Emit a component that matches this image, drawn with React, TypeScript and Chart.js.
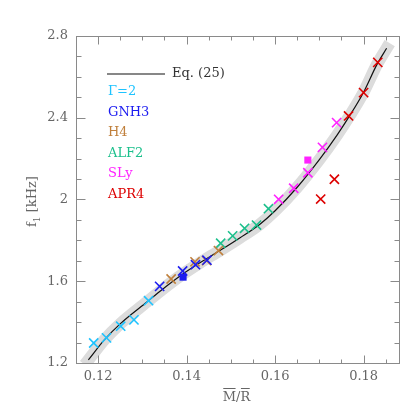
import React, { useEffect, useRef } from "react";
import { Chart, registerables } from "chart.js";

Chart.register(...registerables);

// Eq. (25) fit curve
const curveX = [0.1178, 0.1214, 0.1251, 0.1311, 0.1345, 0.1390, 0.1430, 0.1475, 0.1520, 0.1565, 0.1600, 0.1650, 0.1700, 0.1740, 0.1770, 0.1800, 0.1830, 0.1852];
const curveY = [1.215, 1.313, 1.394, 1.500, 1.560, 1.633, 1.690, 1.750, 1.812, 1.878, 1.945, 2.060, 2.195, 2.315, 2.415, 2.525, 2.660, 2.740];

const gamma2X = [0.1190, 0.1219, 0.1251, 0.1281, 0.1314];
const gamma2Y = [1.298, 1.323, 1.380, 1.411, 1.505];
const gnh3X = [0.1339, 0.1391, 0.1420, 0.1446];
const gnh3Y = [1.575, 1.650, 1.681, 1.703];
const gnh3SquareX = [0.1392];
const gnh3SquareY = [1.620];
const h4X = [0.1365, 0.1419, 0.1445, 0.1472];
const h4Y = [1.611, 1.695, 1.701, 1.750];
const alf2X = [0.1477, 0.1504, 0.1531, 0.1558, 0.1585];
const alf2Y = [1.786, 1.822, 1.859, 1.875, 1.955];
const slyX = [0.1608, 0.1642, 0.1674, 0.1707, 0.1739];
const slyY = [2.001, 2.055, 2.131, 2.255, 2.376];
const slySquareX = [0.1674];
const slySquareY = [2.193];
const apr4X = [0.1703, 0.1734, 0.1766, 0.1800, 0.1832];
const apr4Y = [2.002, 2.099, 2.409, 2.523, 2.671];

const seriesNames = ["Γ=2", "GNH3", "H4", "ALF2", "SLy", "APR4"];
const seriesColors = ["#1ec3ff", "#1c1cf0", "#c0803c", "#1cc08c", "#ff22ff", "#dd0000"];

const xTickValues = [0.12, 0.14, 0.16, 0.18];
const xTickLabels = ["0.12", "0.14", "0.16", "0.18"];
const yTickValues = [1.2, 1.6, 2.0, 2.4, 2.8];
const yTickLabels = ["1.2", "1.6", "2", "2.4", "2.8"];

const zip = (xs: number[], ys: number[]) => xs.map((x, i) => ({ x, y: ys[i] }));

const FONT = "'DejaVu Serif', 'Liberation Serif', serif";

const framePlugin = {
  id: "framePlugin",
  afterDraw(chart: any) {
    const ctx = chart.ctx;
    const xs = chart.scales.x;
    const ys = chart.scales.y;
    const { left, right, top, bottom } = chart.chartArea;
    const L = Math.round(left) + 0.5;
    const R = Math.round(right) + 0.5;
    const T = Math.round(top) + 0.5;
    const B = Math.round(bottom) + 0.5;
    ctx.save();
    ctx.strokeStyle = "#8a8a8a";
    ctx.lineWidth = 1;
    ctx.strokeRect(L, T, R - L, B - T);
    ctx.beginPath();
    for (let i = 23; i <= 37; i++) {
      const v = i * 0.005;
      const px = Math.round(xs.getPixelForValue(v)) + 0.5;
      if (px <= L || px >= R) continue;
      const len = i % 4 === 0 ? 8 : 4;
      ctx.moveTo(px, B);
      ctx.lineTo(px, B - len);
      ctx.moveTo(px, T);
      ctx.lineTo(px, T + len);
    }
    for (let i = 12; i <= 28; i++) {
      const v = i * 0.1;
      const py = Math.round(ys.getPixelForValue(v)) + 0.5;
      if (py <= T || py >= B) continue;
      const len = i % 4 === 0 ? 9 : 5;
      ctx.moveTo(L, py);
      ctx.lineTo(L + len, py);
      ctx.moveTo(R, py);
      ctx.lineTo(R - len, py);
    }
    ctx.stroke();

    // tick labels
    ctx.fillStyle = "#666";
    ctx.font = `13px ${FONT}`;
    ctx.textAlign = "center";
    ctx.textBaseline = "middle";
    xTickValues.forEach((v, i) => {
      ctx.fillText(xTickLabels[i], xs.getPixelForValue(v), bottom + 14);
    });
    ctx.textAlign = "right";
    yTickValues.forEach((v, i) => {
      ctx.fillText(yTickLabels[i], left - 8, ys.getPixelForValue(v));
    });

    // x axis title: M/R with overbars
    ctx.textAlign = "left";
    ctx.textBaseline = "alphabetic";
    const title = "M/R";
    const tw = ctx.measureText(title).width;
    const tx = (left + right) / 2 - tw / 2 - 1;
    const tb = bottom + 38;
    ctx.fillText(title, tx, tb);
    const wM = ctx.measureText("M").width;
    const wMs = ctx.measureText("M/").width;
    ctx.strokeStyle = "#666";
    ctx.beginPath();
    ctx.moveTo(tx + 0.5, tb - 12.5);
    ctx.lineTo(tx + wM - 0.5, tb - 12.5);
    ctx.moveTo(tx + wMs + 0.5, tb - 12.5);
    ctx.lineTo(tx + tw - 0.5, tb - 12.5);
    ctx.stroke();

    // y axis title: f_1 [kHz]
    ctx.save();
    ctx.translate(36, (top + bottom) / 2 + 2);
    ctx.rotate(-Math.PI / 2);
    ctx.font = `13px ${FONT}`;
    const wf = ctx.measureText("f").width;
    ctx.font = `9px ${FONT}`;
    const w1 = ctx.measureText("1").width;
    ctx.font = `13px ${FONT}`;
    const wk = ctx.measureText(" [kHz]").width;
    const total = wf + w1 + wk;
    let cx = -total / 2;
    ctx.fillText("f", cx, 0);
    cx += wf;
    ctx.font = `9px ${FONT}`;
    ctx.fillText("1", cx, 4);
    cx += w1;
    ctx.font = `13px ${FONT}`;
    ctx.fillText(" [kHz]", cx, 0);
    ctx.restore();

    // legend
    ctx.strokeStyle = "#111";
    ctx.lineWidth = 1.2;
    ctx.beginPath();
    ctx.moveTo(107, 74);
    ctx.lineTo(165, 74);
    ctx.stroke();
    ctx.font = `13px ${FONT}`;
    ctx.textBaseline = "middle";
    ctx.textAlign = "left";
    ctx.fillStyle = "#333";
    ctx.fillText("Eq. (25)", 172, 74);
    seriesNames.forEach((name, i) => {
      ctx.fillStyle = seriesColors[i];
      ctx.fillText(name, 108, 92 + i * 20.5);
    });
    ctx.restore();
  },
};

function crossSet(label: string, xs: number[], ys: number[], color: string) {
  return {
    type: "scatter" as const,
    label,
    data: zip(xs, ys),
    pointStyle: "crossRot",
    pointRadius: 6.5,
    pointBorderWidth: 1.6,
    borderColor: color,
    backgroundColor: color,
    showLine: false,
    order: 1,
  };
}

function squareSet(label: string, xs: number[], ys: number[], color: string) {
  return {
    type: "scatter" as const,
    label,
    data: zip(xs, ys),
    pointStyle: "rect",
    pointRadius: 5,
    pointBorderWidth: 0,
    borderColor: color,
    backgroundColor: color,
    showLine: false,
    order: 1,
  };
}

export default function App() {
  const ref = useRef<HTMLCanvasElement | null>(null);
  useEffect(() => {
    document.body.style.margin = "0";
    if (!ref.current) return;
    const chart = new Chart(ref.current, {
      type: "scatter",
      data: {
        datasets: [
          crossSet(seriesNames[0], gamma2X, gamma2Y, seriesColors[0]),
          crossSet(seriesNames[1], gnh3X, gnh3Y, seriesColors[1]),
          squareSet("GNH3 sq", gnh3SquareX, gnh3SquareY, seriesColors[1]),
          crossSet(seriesNames[2], h4X, h4Y, seriesColors[2]),
          crossSet(seriesNames[3], alf2X, alf2Y, seriesColors[3]),
          crossSet(seriesNames[4], slyX, slyY, seriesColors[4]),
          squareSet("SLy sq", slySquareX, slySquareY, seriesColors[4]),
          crossSet(seriesNames[5], apr4X, apr4Y, seriesColors[5]),
          {
            type: "line" as const,
            label: "Eq. (25)",
            data: zip(curveX, curveY),
            borderColor: "#111",
            borderWidth: 1.2,
            pointRadius: 0,
            cubicInterpolationMode: "monotone",
            fill: false,
            order: 2,
          },
          {
            type: "line" as const,
            label: "band",
            data: zip(curveX, curveY),
            borderColor: "#dcdcdc",
            borderWidth: 12,
            borderCapStyle: "square",
            pointRadius: 0,
            cubicInterpolationMode: "monotone",
            fill: false,
            order: 3,
          },
        ] as any,
      },
      options: {
        responsive: false,
        animation: false,
        layout: { padding: { left: 76, top: 36, right: 16, bottom: 52 } },
        plugins: { legend: { display: false }, tooltip: { enabled: false } },
        scales: {
          x: { type: "linear", min: 0.115, max: 0.188, display: false },
          y: { type: "linear", min: 1.2, max: 2.8, display: false },
        },
      },
      plugins: [framePlugin],
    });
    return () => chart.destroy();
  }, []);
  return (
    <div style={{ width: 415, height: 415, background: "#fff" }}>
      <canvas ref={ref} width={415} height={415} style={{ display: "block" }} />
    </div>
  );
}
